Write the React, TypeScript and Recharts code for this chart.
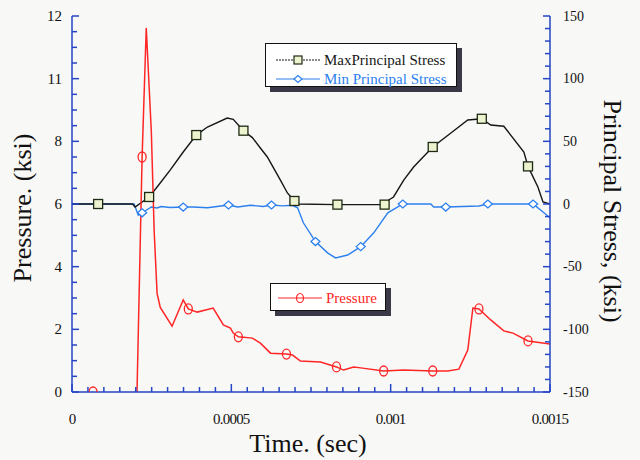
import React from 'react'
import { ComposedChart, Line, XAxis, YAxis } from 'recharts'

const AXIS_BLUE = '#2546c6'
const MAX_COLOR = '#161616'
const MIN_COLOR = '#2c80ee'
const PRESSURE_COLOR = '#ff2626'
const FONT = '"Liberation Serif", "Times New Roman", serif'

// Max principal stress (ksi, right axis) vs time (sec)
const maxTime = [0, 0.000082, 0.00019, 0.000198, 0.000242, 0.000267, 0.000308, 0.000349, 0.00039, 0.000425, 0.000487, 0.000506, 0.000538, 0.000566, 0.000591, 0.000613, 0.000654, 0.000676, 0.000698, 0.000708, 0.000833, 0.000981, 0.000994, 0.001009, 0.001041, 0.001072, 0.001132, 0.001189, 0.001242, 0.001286, 0.001314, 0.001355, 0.001418, 0.001431, 0.001462, 0.001478, 0.0015]
const maxStress = [0, 0, 0, -2.4, 5.6, 13.6, 27, 41.5, 55, 61.4, 68.6, 67.5, 58.5, 53, 44.7, 37.5, 19, 8.8, 2.4, 0, -0.5, -0.5, 3.2, 5.6, 19, 29.5, 45.5, 56.6, 67, 68, 63, 62, 41.5, 30, 13.6, 1.6, 0]
const maxMarks = [1, 4, 8, 12, 18, 20, 21, 26, 29, 33]

// Min principal stress (ksi, right axis)
const minTime = [0, 0.000082, 0.000195, 0.000208, 0.00022, 0.000233, 0.000249, 0.000267, 0.00028, 0.000308, 0.000349, 0.00038, 0.000425, 0.000491, 0.00052, 0.00056, 0.0006, 0.000626, 0.00066, 0.000692, 0.000708, 0.000726, 0.000764, 0.000802, 0.000827, 0.000865, 0.000906, 0.000947, 0.000991, 0.001038, 0.001126, 0.001135, 0.001173, 0.001277, 0.001305, 0.001447, 0.001481, 0.0015]
const minStress = [0, 0, 0, -9, -7, -5, -2.4, -3.2, -2, -2.8, -2.4, -2.4, -3, -0.8, -2.4, -1, -2, -0.8, -1.5, -1, -3, -15, -30, -39, -43, -40.7, -34, -23, -7, 0, 0, -2.4, -2.4, -1.6, 0, 0, -7, -11]
const minMarks = [1, 4, 10, 13, 17, 22, 26, 29, 32, 34, 35]

// Pressure (ksi, left axis)
const pressureTime = [0.000066, 0.00015, 0.000204, 0.00022, 0.000233, 0.000249, 0.000258, 0.000267, 0.000277, 0.000314, 0.000349, 0.000365, 0.000393, 0.000443, 0.000475, 0.000497, 0.000506, 0.000522, 0.000566, 0.000591, 0.000623, 0.000673, 0.000692, 0.000717, 0.00078, 0.00083, 0.000852, 0.000884, 0.000906, 0.000978, 0.001041, 0.001132, 0.001179, 0.001214, 0.001242, 0.001258, 0.001277, 0.001314, 0.001355, 0.001384, 0.001431, 0.0015]
const pressure = [0, null, 0, 7.5, 11.62, 8.3, 5.1, 3.15, 2.7, 2.1, 2.94, 2.65, 2.55, 2.68, 2.14, 2.04, 1.88, 1.76, 1.72, 1.56, 1.24, 1.21, 1.18, 0.99, 0.96, 0.8, 0.7, 0.8, 0.77, 0.67, 0.7, 0.67, 0.67, 0.73, 1.34, 2.68, 2.65, 2.3, 1.95, 1.88, 1.63, 1.53]
const pressureMarks = [0, 3, 11, 17, 21, 25, 29, 31, 36, 40]

const pressureTickValues = [0, 2, 4, 6, 8, 10, 12]
const pressureTickLabels = ['0', '2', '4', '6', '8', '11', '12']
const stressTickValues = [-150, -100, -50, 0, 50, 100, 150]
const stressTickLabels = ['-150', '-100', '-50', '0', '50', '100', '150']
const timeTickValues = [0, 0.0005, 0.001, 0.0015]
const timeTickLabels = ['0', '0.0005', '0.001', '0.0015']

const toRows = (t: number[], v: (number | null)[], marks: number[]) =>
  t.map((x, i) => ({ t: x, v: v[i], mark: marks.includes(i) }))

const maxRows = toRows(maxTime, maxStress, maxMarks)
const minRows = toRows(minTime, minStress, minMarks)
const pressureRows = toRows(pressureTime, pressure, pressureMarks)

// minor tick positions
const pressureTicks = Array.from({ length: 25 }, (_, i) => i * 0.5)
const stressTicks = Array.from({ length: 31 }, (_, i) => -150 + i * 10)
const timeTicks = Array.from({ length: 31 }, (_, i) => i * 0.00005)

const labelFor = (values: number[], labels: string[], v: number, eps: number) => {
  const i = values.findIndex((m) => Math.abs(m - v) < eps)
  return i >= 0 ? labels[i] : null
}

const tickText = { fontFamily: FONT, fontSize: 15, fill: '#111' }
const tickStroke = { stroke: AXIS_BLUE, strokeWidth: 1.5, fill: 'none' }

function BottomTick({ x, y, payload }: any) {
  const label = labelFor(timeTickValues, timeTickLabels, payload.value, 1e-9)
  const len = label ? 8 : 5
  return (
    <g>
      <path d={`M${x},${y} L${x},${y - len}`} {...tickStroke} />
      {label && (
        <text x={x} y={y + 32} textAnchor="middle" letterSpacing={-0.8} {...tickText}>
          {label}
        </text>
      )}
    </g>
  )
}

function TopTick({ x, y, payload }: any) {
  const major = labelFor(timeTickValues, timeTickLabels, payload.value, 1e-9)
  const len = major ? 8 : 5
  return <path d={`M${x},${y} L${x},${y + len}`} {...tickStroke} />
}

function LeftTick({ x, y, payload }: any) {
  const label = labelFor(pressureTickValues, pressureTickLabels, payload.value, 1e-6)
  const len = label ? 7 : 5
  return (
    <g>
      <path d={`M${x},${y} L${x + len},${y}`} {...tickStroke} />
      {label && (
        <text x={x - 10} y={y} textAnchor="end" dominantBaseline="central" {...tickText}>
          {label}
        </text>
      )}
    </g>
  )
}

function RightTick({ x, y, payload }: any) {
  const label = labelFor(stressTickValues, stressTickLabels, payload.value, 1e-6)
  const len = label ? 7 : 5
  return (
    <g>
      <path d={`M${x},${y} L${x - len},${y}`} {...tickStroke} />
      {label && (
        <text x={x + 13} y={y} textAnchor="start" dominantBaseline="central" {...tickText} fontSize={14}>
          {label}
        </text>
      )}
    </g>
  )
}

function AxisTitle({ px, py, rot, caption }: any) {
  return (
    <text
      x={px}
      y={py}
      transform={`rotate(${rot} ${px} ${py})`}
      textAnchor="middle"
      dominantBaseline="central"
      fontFamily={FONT}
      fontSize={26}
      fill="#111"
    >
      {caption}
    </text>
  )
}

const squareDot = (p: any) =>
  p.payload.mark ? (
    <rect key={`sq-${p.index}`} x={p.cx - 4.5} y={p.cy - 4.5} width={9} height={9} fill="#eef3cf" stroke="#1d2a14" strokeWidth={1.3} />
  ) : (
    <g key={`sq-${p.index}`} />
  )

const diamondDot = (p: any) =>
  p.payload.mark ? (
    <path key={`dm-${p.index}`} d={`M${p.cx - 4.5},${p.cy} L${p.cx},${p.cy - 4} L${p.cx + 4.5},${p.cy} L${p.cx},${p.cy + 4} Z`} fill="#fff" stroke={MIN_COLOR} strokeWidth={1.3} />
  ) : (
    <g key={`dm-${p.index}`} />
  )

const circleDot = (p: any) =>
  p.payload.mark && p.payload.v !== null ? (
    <ellipse key={`ci-${p.index}`} cx={p.cx} cy={p.cy} rx={4} ry={5} fill="none" stroke={PRESSURE_COLOR} strokeWidth={1.3} />
  ) : (
    <g key={`ci-${p.index}`} />
  )

function LegendIcon({ color, kind }: { color: string; kind: string }) {
  return (
    <svg width={44} height={12} style={{ position: 'absolute', left: 0, top: 0 }}>
      <line x1={0} x2={44} y1={6} y2={6} stroke={color} strokeWidth={1.2} strokeDasharray={kind === 'sq' ? '2 1' : undefined} />
      {kind === 'sq' && <rect x={18} y={2} width={8} height={8} fill="#eef3cf" stroke="#1d2a14" strokeWidth={1.2} />}
      {kind === 'dm' && <path d="M18,6 L22,2.5 L26,6 L22,9.5 Z" fill="#fff" stroke={color} strokeWidth={1.2} />}
      {kind === 'ci' && <ellipse cx={22} cy={6} rx={3.5} ry={4.5} fill="none" stroke={color} strokeWidth={1.2} />}
    </svg>
  )
}

const boxStyle: React.CSSProperties = {
  position: 'absolute',
  border: '1.5px solid #111',
  background: '#fff',
  boxShadow: '5px 5px 0 #3b3948',
  fontFamily: FONT,
  fontSize: 15,
}

function LegendRow({ left, top, color, kind, text }: any) {
  return (
    <div style={{ position: 'absolute', left, top, height: 12, width: 200 }}>
      <LegendIcon color={color} kind={kind} />
      <span style={{ position: 'absolute', left: 48, top: -3, lineHeight: '18px', color, whiteSpace: 'nowrap' }}>{text}</span>
    </div>
  )
}

const axisCommon = {
  allowDataOverflow: true,
  interval: 0 as const,
  tickLine: false,
  tickSize: 0,
  tickMargin: 0,
  axisLine: { stroke: AXIS_BLUE, strokeWidth: 1.5 },
}

export default function App() {
  return (
    <div style={{ position: 'absolute', left: 0, top: 0, width: 640, height: 460, background: '#f8f8f7' }}>
      <ComposedChart width={640} height={460} margin={{ top: 16, right: 0, bottom: 0, left: 0 }}>
        <XAxis
          xAxisId="b"
          dataKey="t"
          type="number"
          domain={[0, 0.0015]}
          ticks={timeTicks}
          height={68}
          {...axisCommon}
          tick={<BottomTick />}
          label={<AxisTitle px={308} py={443} rot={0} caption="Time. (sec)" />}
        />
        <XAxis
          xAxisId="top"
          orientation="top"
          dataKey="t"
          type="number"
          domain={[0, 0.0015]}
          ticks={timeTicks}
          height={0}
          {...axisCommon}
          tick={<TopTick />}
        />
        <YAxis
          yAxisId="p"
          type="number"
          domain={[0, 12]}
          ticks={pressureTicks}
          width={72}
          {...axisCommon}
          tick={<LeftTick />}
          label={<AxisTitle px={22} py={208} rot={-90} caption="Pressure. (ksi)" />}
        />
        <YAxis
          yAxisId="s"
          orientation="right"
          type="number"
          domain={[-150, 150]}
          ticks={stressTicks}
          width={90}
          {...axisCommon}
          tick={<RightTick />}
          label={<AxisTitle px={612} py={211} rot={90} caption="Principal Stress, (ksi)" />}
        />
        <Line
          data={minRows}
          xAxisId="b"
          yAxisId="s"
          dataKey="v"
          type="linear"
          stroke={MIN_COLOR}
          strokeWidth={1.4}
          dot={diamondDot}
          activeDot={false}
          isAnimationActive={false}
        />
        <Line
          data={maxRows}
          xAxisId="b"
          yAxisId="s"
          dataKey="v"
          type="linear"
          stroke={MAX_COLOR}
          strokeWidth={1.4}
          dot={squareDot}
          activeDot={false}
          isAnimationActive={false}
        />
        <Line
          data={pressureRows}
          xAxisId="b"
          yAxisId="p"
          dataKey="v"
          type="linear"
          stroke={PRESSURE_COLOR}
          strokeWidth={1.5}
          dot={circleDot}
          activeDot={false}
          connectNulls={false}
          isAnimationActive={false}
        />
      </ComposedChart>

      <div style={{ ...boxStyle, left: 265, top: 43, width: 190, height: 42 }}>
        <LegendRow left={10} top={10} color={MAX_COLOR} kind="sq" text="MaxPrincipal Stress" />
        <LegendRow left={10} top={29} color={MIN_COLOR} kind="dm" text="Min Principal Stress" />
      </div>
      <div style={{ ...boxStyle, left: 270, top: 283, width: 114, height: 26 }}>
        <LegendRow left={7} top={8} color={PRESSURE_COLOR} kind="ci" text="Pressure" />
      </div>
    </div>
  )
}
